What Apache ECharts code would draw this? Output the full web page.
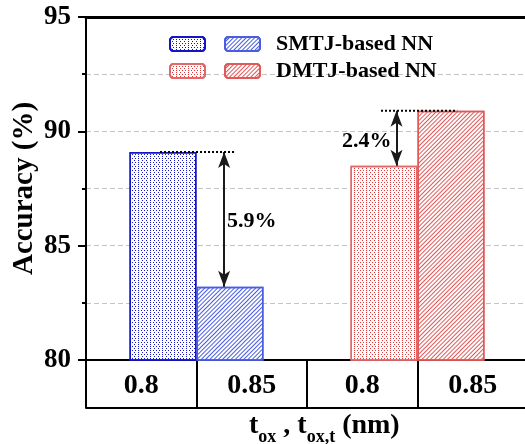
<!DOCTYPE html>
<html><head><meta charset="utf-8">
<script src="https://cdn.jsdelivr.net/npm/echarts@6/dist/echarts.min.js"></script>
<style>html,body{margin:0;padding:0;background:#fff}#c{width:525px;height:444px}</style>
</head><body><div id="c"></div>
<script>
// ---- data ----
const cellLabels = ['0.8', '0.85', '0.8', '0.85'];
const groups = ['SMTJ', 'DMTJ'];
const smtj08 = [89.1, '-'];
const smtj085 = [83.2, '-'];
const dmtj08 = ['-', 88.5];
const dmtj085 = ['-', 90.9];
const yTicks = [80, 85, 90, 95];
// annotation positions (x in cell units 0..4)
const gap1 = {x0: 0.67, x1: 1.35, xa: 1.25, xt: 1.50, top: 89.1, bottom: 83.2};
const gap2 = {x0: 2.67, x1: 3.36, xa: 2.81, xt: 2.54, top: 90.9, bottom: 88.5};

const FONT = "'Liberation Serif','Times New Roman',serif";
const BLUE_D = '#1414c8', BLUE_H = '#4a5ce0', RED_D = '#e03a3a', RED_H = '#e05858', RED_B = '#e06a6a';

function dots(c){return {symbol:'rect', symbolSize:1, dashArrayX:[[1,2],[0,1.5,1,0.5]], dashArrayY:[1,1], color:c};}
function hatch(c){return {symbol:'rect', symbolSize:1, dashArrayX:[1,0], dashArrayY:[1,2], rotation:-Math.PI/4, color:c};}

const chart = echarts.init(document.getElementById('c'), null, {renderer:'canvas'});
const annoText = [
  [gap1.xt, (gap1.top + gap1.bottom)/2 - 0.1, (gap1.top - gap1.bottom).toFixed(1) + '%'],
  [gap2.xt, (gap2.top + gap2.bottom)/2 - 0.15, (gap2.top - gap2.bottom).toFixed(1) + '%']
];
const legendFmt = n => n.indexOf('based') >= 0 ? '  ' + n : '';
const legendText = {fontFamily: FONT, fontWeight: 'bold', fontSize: 22, color: '#000'};
const xNameGraphic = {id: 'xname', type: 'text', left: 249, top: 412, silent: true,
  style: {text: '{m|t}{s|ox}{m| , t}{s|ox,t}{m| (nm)}',
    rich: {m: {fontFamily: FONT, fontWeight: 'bold', fontSize: 28, color: '#000', lineHeight: 30, verticalAlign: 'bottom'},
           s: {fontFamily: FONT, fontWeight: 'bold', fontSize: 18, color: '#000', lineHeight: 30, verticalAlign: 'bottom', padding: [0,0,-6,0]}}}};
chart.setOption({
  animation: false,
  grid: {left: 86, right: -3, top: 17, bottom: 84, containLabel: false, outerBoundsMode: 'none'},
  legend: [
    {data: ['SMTJ 0.8', 'SMTJ-based NN'], left: 164, top: 28, itemWidth: 35, itemHeight: 14, itemGap: 18,
     formatter: legendFmt, textStyle: legendText, selectedMode: false},
    {data: ['DMTJ 0.8', 'DMTJ-based NN'], left: 164, top: 55, itemWidth: 35, itemHeight: 14, itemGap: 18,
     formatter: legendFmt, textStyle: legendText, selectedMode: false}
  ],
  xAxis: [
    {type: 'category', data: cellLabels, position: 'bottom', boundaryGap: true,
     axisLine: {show: true, lineStyle: {color: '#000', width: 2}},
     axisTick: {show: true, interval: 0, alignWithLabel: false, length: 48, lineStyle: {color: '#000', width: 2}},
     axisLabel: {interval: 0, margin: 12, fontFamily: FONT, fontWeight: 'bold', fontSize: 28, color: '#000'},
     splitLine: {show: false}},
    {type: 'category', data: groups, position: 'top',
     axisLine: {show: true, lineStyle: {color: '#000', width: 3}},
     axisTick: {show: false}, axisLabel: {show: false}, splitLine: {show: false}},
    {type: 'category', data: cellLabels, position: 'bottom', offset: 48,
     axisLine: {show: true, lineStyle: {color: '#000', width: 2}},
     axisTick: {show: false}, axisLabel: {show: false}, splitLine: {show: false}},
    {type: 'value', min: 0, max: 4, show: false}
  ],
  yAxis: {
    type: 'value', min: yTicks[0], max: yTicks[yTicks.length-1], interval: 5,
    name: 'Accuracy (%)', nameLocation: 'middle', nameGap: 47, nameMoveOverlap: false,
    nameTextStyle: {fontFamily: FONT, fontWeight: 'bold', fontSize: 29, color: '#000'},
    axisLine: {show: true, lineStyle: {color: '#000', width: 2}},
    axisTick: {show: true, inside: false, length: 8, lineStyle: {color: '#000', width: 2}},
    minorTick: {show: true, splitNumber: 2, length: 4, lineStyle: {color: '#000', width: 2}},
    axisLabel: {margin: 15, fontFamily: FONT, fontWeight: 'bold', fontSize: 27, color: '#000'},
    splitLine: {show: true, lineStyle: {color: '#c4c4c4', type: [5, 3], width: 1}},
    minorSplitLine: {show: true, lineStyle: {color: '#c4c4c4', type: [5, 3], width: 1}}
  },
  series: [
    {name: 'SMTJ 0.8', type: 'bar', xAxisIndex: 1, stack: 'a', data: smtj08, barWidth: 67, barGap: '0%',
     itemStyle: {color: '#fff', borderColor: BLUE_D, borderWidth: 1.5, decal: dots(BLUE_D)}},
    {name: 'SMTJ-based NN', type: 'bar', xAxisIndex: 1, stack: 'b', data: smtj085, barWidth: 67, barGap: '0%',
     itemStyle: {color: '#fff', borderColor: BLUE_H, borderWidth: 1.5, decal: hatch(BLUE_H)}},
    {name: 'DMTJ 0.8', type: 'bar', xAxisIndex: 1, stack: 'a', data: dmtj08, barWidth: 67, barGap: '0%',
     itemStyle: {color: '#fff', borderColor: RED_B, borderWidth: 1.5, decal: dots(RED_D)}},
    {name: 'DMTJ-based NN', type: 'bar', xAxisIndex: 1, stack: 'b', data: dmtj085, barWidth: 67, barGap: '0%',
     itemStyle: {color: '#fff', borderColor: RED_H, borderWidth: 1.5, decal: hatch(RED_H)}},
    {name: 'ref1', type: 'line', xAxisIndex: 3, data: [[gap1.x0, gap1.top], [gap1.x1, gap1.top]], symbol: 'none',
     lineStyle: {color: '#000', width: 2, type: [2, 2]}, silent: true, z: 5,
     markLine: {silent: true, symbol: ['arrow', 'arrow'], symbolSize: [9, 16], label: {show: false},
       lineStyle: {color: '#1a1a1a', width: 2, type: 'solid'},
       data: [[{coord: [gap1.xa, gap1.top]}, {coord: [gap1.xa, gap1.bottom]}],
              [{coord: [gap2.xa, gap2.top]}, {coord: [gap2.xa, gap2.bottom]}]]}},
    {name: 'ref2', type: 'line', xAxisIndex: 3, data: [[gap2.x0, gap2.top], [gap2.x1, gap2.top]], symbol: 'none',
     lineStyle: {color: '#000', width: 2, type: [2, 2]}, silent: true, z: 5}
  ],
  graphic: [xNameGraphic]
});
// annotation percentages, positioned through the chart's own axes
const annoGraphics = annoText.map((a, i) => {
  const p = chart.convertToPixel({xAxisIndex: 3, yAxisIndex: 0}, [a[0], a[1]]);
  return {id: 'anno' + i, type: 'text', x: p[0], y: p[1], silent: true, z: 10,
    style: {text: a[2], fontFamily: FONT, fontWeight: 'bold', fontSize: 22, fill: '#000',
            align: 'center', verticalAlign: 'middle'}};
});
chart.setOption({graphic: [xNameGraphic].concat(annoGraphics)});
</script></body></html>
